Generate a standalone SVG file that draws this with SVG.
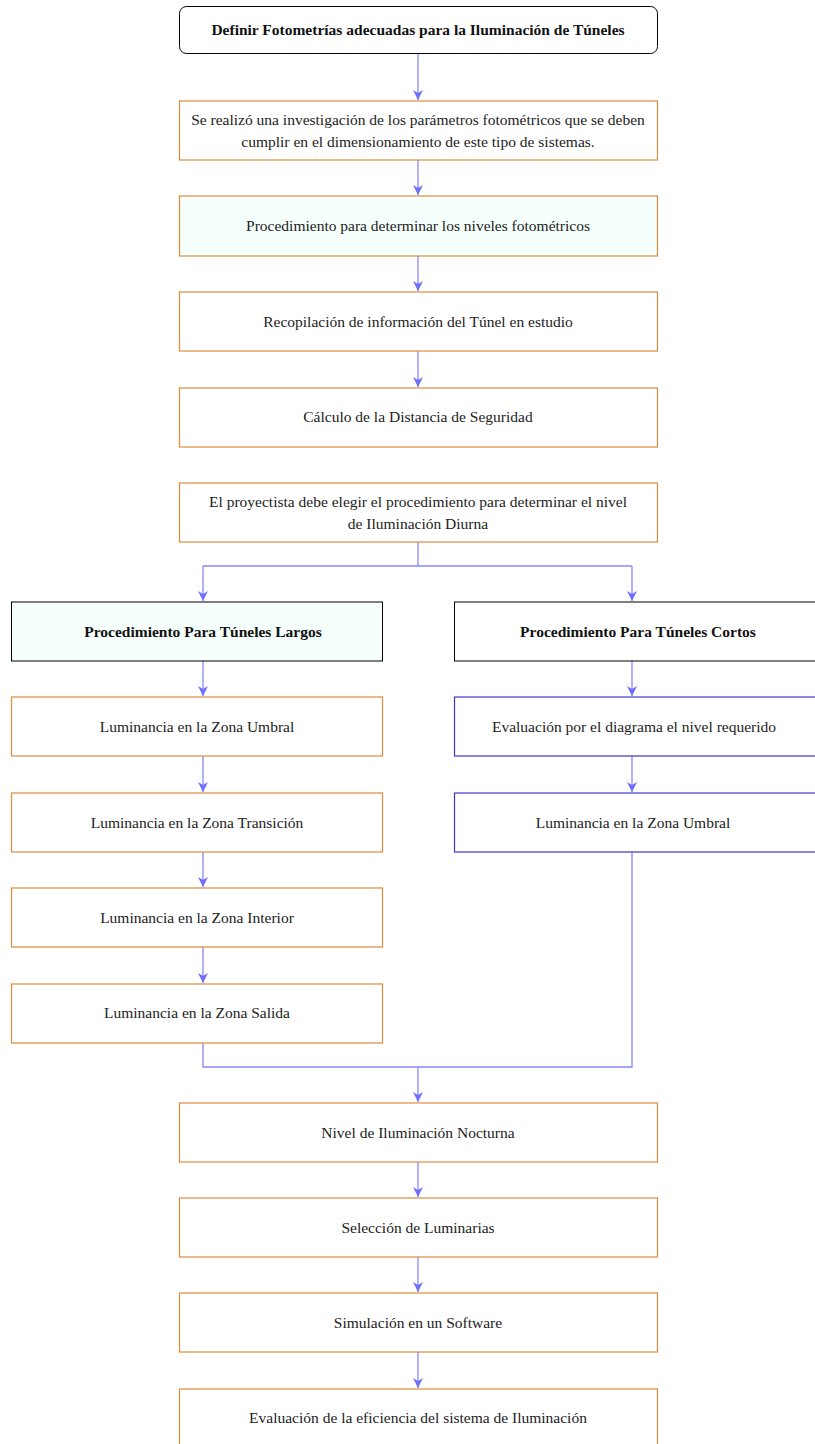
<svg xmlns="http://www.w3.org/2000/svg" width="815" height="1444" viewBox="0 0 815 1444">
<defs>
<marker id="ah" viewBox="0 0 10 10" refX="10" refY="5" markerWidth="10" markerHeight="10" markerUnits="userSpaceOnUse" orient="auto">
<path d="M0,0 L10,5 L0,10 L3,5 Z" fill="#6f6fff"/>
</marker>
<style>
.o{fill:#fff;stroke:#e08a3c;stroke-width:1.2}
.oc{fill:#f5fffc;stroke:#e08a3c;stroke-width:1.2}
.k{fill:#fff;stroke:#000;stroke-width:1}
.kc{fill:#f5fffc;stroke:#000;stroke-width:1}
.b{fill:#fff;stroke:#3a3acc;stroke-width:1.2}
.t{font-family:"Liberation Serif","Times New Roman",serif;font-size:15.5px;fill:#222;text-anchor:middle}
.tb{font-family:"Liberation Serif","Times New Roman",serif;font-size:15.5px;font-weight:bold;fill:#111;text-anchor:middle}
.c{fill:none;stroke:#8888ff;stroke-width:1.3}
.ca{fill:none;stroke:#8888ff;stroke-width:1.3;marker-end:url(#ah)}
</style>
</defs>
<rect width="815" height="1444" fill="#fff"/>
<g id="connectors">
<path class="ca" d="M418,53 V100"/>
<path class="ca" d="M418,160 V195"/>
<path class="ca" d="M418,256 V291"/>
<path class="ca" d="M418,351 V387"/>
<path class="c" d="M418,542 V566 H203"/>
<path class="c" d="M418,566 H632"/>
<path class="ca" d="M203,566 V601"/>
<path class="ca" d="M632,566 V601"/>
<path class="ca" d="M203,661 V696"/>
<path class="ca" d="M203,756 V792"/>
<path class="ca" d="M203,852 V887"/>
<path class="ca" d="M203,947 V983"/>
<path class="ca" d="M632,661 V696"/>
<path class="ca" d="M632,756 V792"/>
<path class="c" d="M203,1043 V1067 H632 V852"/>
<path class="ca" d="M418,1067 V1102"/>
<path class="ca" d="M418,1162 V1197"/>
<path class="ca" d="M418,1257 V1292"/>
<path class="ca" d="M418,1352 V1388"/>
</g>
<g id="n1"><rect class="k" x="179.5" y="6.5" width="478" height="47" rx="7"/><text class="tb" x="418" y="35">Definir Fotometrías adecuadas para la Iluminación de Túneles</text></g>
<g id="n2"><rect class="o" x="179.5" y="101" width="478" height="59"/><text class="t" x="418" y="125">Se realizó una investigación de los parámetros fotométricos que se deben</text><text class="t" x="418" y="147">cumplir en el dimensionamiento de este tipo de sistemas.</text></g>
<g id="n3"><rect class="oc" x="179.5" y="196" width="478" height="60"/><text class="t" x="418" y="231">Procedimiento para determinar los niveles fotométricos</text></g>
<g id="n4"><rect class="o" x="179.5" y="292" width="478" height="59"/><text class="t" x="418" y="327">Recopilación de información del Túnel en estudio</text></g>
<g id="n5"><rect class="o" x="179.5" y="388" width="478" height="59"/><text class="t" x="418" y="422">Cálculo de la Distancia de Seguridad</text></g>
<g id="n6"><rect class="o" x="179.5" y="483" width="478" height="59"/><text class="t" x="418" y="507">El proyectista debe elegir el procedimiento para determinar el nivel</text><text class="t" x="418" y="529">de Iluminación Diurna</text></g>
<g id="l1"><rect class="kc" x="11.5" y="602" width="371" height="59"/><text class="tb" x="203" y="637">Procedimiento Para Túneles Largos</text></g>
<g id="l2"><rect class="o" x="11.5" y="697" width="371" height="59"/><text class="t" x="197" y="732">Luminancia en la Zona Umbral</text></g>
<g id="l3"><rect class="o" x="11.5" y="793" width="371" height="59"/><text class="t" x="197" y="828">Luminancia en la Zona Transición</text></g>
<g id="l4"><rect class="o" x="11.5" y="888" width="371" height="59"/><text class="t" x="197" y="923">Luminancia en la Zona Interior</text></g>
<g id="l5"><rect class="o" x="11.5" y="984" width="371" height="59"/><text class="t" x="197" y="1018">Luminancia en la Zona Salida</text></g>
<g id="r1"><rect class="k" x="454.5" y="602" width="372" height="59"/><text class="tb" x="638" y="637">Procedimiento Para Túneles Cortos</text></g>
<g id="r2"><rect class="b" x="454.5" y="697" width="372" height="59"/><text class="t" x="634" y="732">Evaluación por el diagrama el nivel requerido</text></g>
<g id="r3"><rect class="b" x="454.5" y="793" width="372" height="59"/><text class="t" x="633" y="828">Luminancia en la Zona Umbral</text></g>
<g id="b1"><rect class="o" x="179.5" y="1103" width="478" height="59"/><text class="t" x="418" y="1138">Nivel de Iluminación Nocturna</text></g>
<g id="b2"><rect class="o" x="179.5" y="1198" width="478" height="59"/><text class="t" x="418" y="1233">Selección de Luminarias</text></g>
<g id="b3"><rect class="o" x="179.5" y="1293" width="478" height="59"/><text class="t" x="418" y="1328">Simulación en un Software</text></g>
<g id="b4"><rect class="o" x="179.5" y="1389" width="478" height="59"/><text class="t" x="418" y="1423">Evaluación de la eficiencia del sistema de Iluminación</text></g>
</svg>
